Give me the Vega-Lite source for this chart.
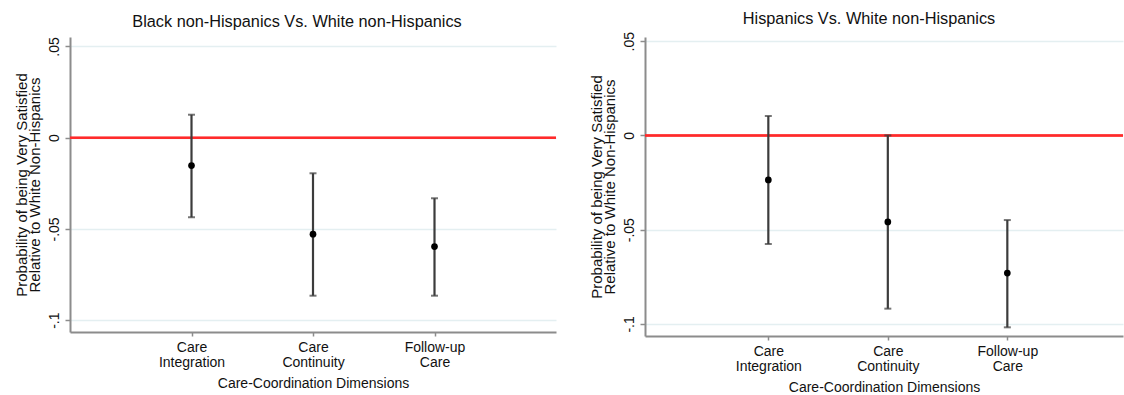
{
  "$schema": "https://vega.github.io/schema/vega-lite/v6.json",
  "padding": {"left": 14, "top": 10, "right": 0, "bottom": 0},
  "autosize": {"type": "pad"},
  "background": "white",
  "spacing": 32,
  "config": {
    "font": "Liberation Sans",
    "view": {"stroke": null},
    "axis": {
      "domainColor": "#8c8c8c",
      "domainWidth": 2,
      "tickColor": "#8c8c8c",
      "tickWidth": 1.5,
      "labelColor": "#111111",
      "titleColor": "#111111",
      "labelFont": "Liberation Sans",
      "titleFont": "Liberation Sans",
      "titleFontWeight": "normal"
    },
    "axisX": {"grid": false, "tickSize": 4, "labelFontSize": 14, "labelLineHeight": 15, "labelPadding": 4, "titleFontSize": 14, "titlePadding": 7},
    "axisY": {
      "grid": true,
      "gridColor": "#e4eff1",
      "gridWidth": 1.5,
      "tickSize": 5,
      "labelAngle": -90,
      "labelAlign": "center",
      "labelBaseline": "bottom",
      "labelFontSize": 14,
      "labelPadding": 4,
      "titleFontSize": 15,
      "titleLineHeight": 13,
      "titlePadding": 5
    },
    "title": {"font": "Liberation Sans", "fontSize": 16.3, "fontWeight": "normal", "color": "#111111", "anchor": "middle"}
  },
  "datasets": {
    "black": [
      {"dim": "Care|Integration", "est": -0.0153, "lo": -0.0436, "hi": 0.0126},
      {"dim": "Care|Continuity", "est": -0.0529, "lo": -0.0866, "hi": -0.0195},
      {"dim": "Follow-up|Care", "est": -0.0597, "lo": -0.0866, "hi": -0.0332}
    ],
    "hisp": [
      {"dim": "Care|Integration", "est": -0.0236, "lo": -0.0576, "hi": 0.0103},
      {"dim": "Care|Continuity", "est": -0.0459, "lo": -0.0919, "hi": 0.0},
      {"dim": "Follow-up|Care", "est": -0.0730, "lo": -0.1018, "hi": -0.0449}
    ]
  },
  "hconcat": [
    {
      "width": 486,
      "height": 295,
      "title": {"text": "Black non-Hispanics Vs. White non-Hispanics", "offset": 7.5, "dx": -16, "dy": 1},
      "data": {"name": "black"},
      "layer": [
        {
          "mark": {"type": "rule", "color": "#ff2a2a", "strokeWidth": 2},
          "encoding": {"y": {"datum": 0, "type": "quantitative", "scale": {"domain": [-0.1065, 0.0552], "nice": false, "zero": false}, "axis": {"title": ["Probability of being Very Satisfied", "Relative to White Non-Hispanics"], "values": [-0.1, -0.05, 0, 0.05], "labelExpr": "datum.value == 0 ? '0' : replace(toString(datum.value), '0.', '.')"}}}
        },
        {
          "mark": {"type": "errorbar", "color": "#3c3c3c", "thickness": 2.2, "ticks": {"size": 7, "thickness": 2}},
          "encoding": {
            "x": {"field": "dim", "type": "nominal", "sort": null, "scale": {"type": "point", "padding": 1.068}, "axis": {"title": "Care-Coordination Dimensions", "labelAngle": 0, "labelExpr": "split(datum.value, '|')"}},
            "y": {"field": "lo", "type": "quantitative", "axis": {"title": ["Probability of being Very Satisfied", "Relative to White Non-Hispanics"], "values": [-0.1, -0.05, 0, 0.05], "labelExpr": "datum.value == 0 ? '0' : replace(toString(datum.value), '0.', '.')"}},
            "y2": {"field": "hi"}
          }
        },
        {
          "mark": {"type": "point", "filled": true, "size": 45, "color": "#000000", "opacity": 1},
          "encoding": {
            "x": {"field": "dim", "type": "nominal", "sort": null},
            "y": {"field": "est", "type": "quantitative", "axis": {"title": ["Probability of being Very Satisfied", "Relative to White Non-Hispanics"], "values": [-0.1, -0.05, 0, 0.05], "labelExpr": "datum.value == 0 ? '0' : replace(toString(datum.value), '0.', '.')"}}
          }
        }
      ]
    },
    {
      "width": 478,
      "height": 299,
      "title": {"text": "Hispanics Vs. White non-Hispanics", "offset": 3.5, "dx": -15, "dy": -1},
      "data": {"name": "hisp"},
      "layer": [
        {
          "mark": {"type": "rule", "color": "#ff2a2a", "strokeWidth": 2},
          "encoding": {"y": {"datum": 0, "type": "quantitative", "scale": {"domain": [-0.1064, 0.0522], "nice": false, "zero": false}, "axis": {"title": ["Probability of being Very Satisfied", "Relative to White Non-Hispanics"], "values": [-0.1, -0.05, 0, 0.05], "labelExpr": "datum.value == 0 ? '0' : replace(toString(datum.value), '0.', '.')"}}}
        },
        {
          "mark": {"type": "errorbar", "color": "#3c3c3c", "thickness": 2.2, "ticks": {"size": 7, "thickness": 2}},
          "encoding": {
            "x": {"field": "dim", "type": "nominal", "sort": null, "scale": {"type": "point", "padding": 1.0427, "align": 0.516}, "axis": {"title": "Care-Coordination Dimensions", "labelAngle": 0, "labelExpr": "split(datum.value, '|')"}},
            "y": {"field": "lo", "type": "quantitative", "axis": {"title": ["Probability of being Very Satisfied", "Relative to White Non-Hispanics"], "values": [-0.1, -0.05, 0, 0.05], "labelExpr": "datum.value == 0 ? '0' : replace(toString(datum.value), '0.', '.')"}},
            "y2": {"field": "hi"}
          }
        },
        {
          "mark": {"type": "point", "filled": true, "size": 45, "color": "#000000", "opacity": 1},
          "encoding": {
            "x": {"field": "dim", "type": "nominal", "sort": null},
            "y": {"field": "est", "type": "quantitative", "axis": {"title": ["Probability of being Very Satisfied", "Relative to White Non-Hispanics"], "values": [-0.1, -0.05, 0, 0.05], "labelExpr": "datum.value == 0 ? '0' : replace(toString(datum.value), '0.', '.')"}}
          }
        }
      ]
    }
  ]
}
